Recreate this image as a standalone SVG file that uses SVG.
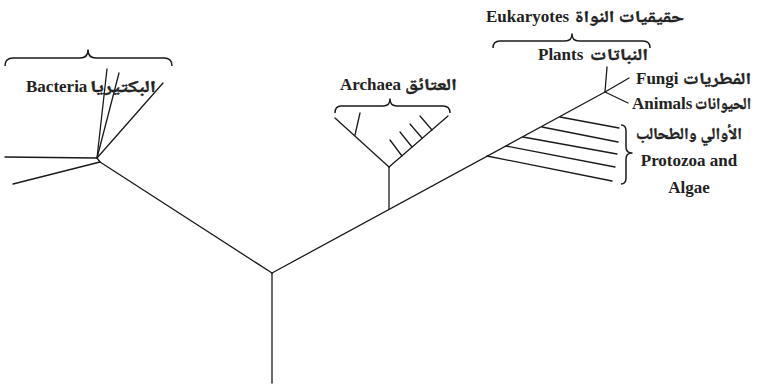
<svg xmlns="http://www.w3.org/2000/svg" width="773" height="386" viewBox="0 0 773 386">
  <style>
    .br { fill: none; stroke: #1a1a1a; stroke-width: 1.3; stroke-linecap: round; }
    .brace { fill: none; stroke: #1a1a1a; stroke-width: 1.5; stroke-linejoin: round; }
    .en { font-family: "Liberation Serif", "Times New Roman", serif; font-weight: bold; font-size: 17px; fill: #222; }
    .ar { font-family: "Noto Naskh Arabic", "Noto Sans Arabic", "DejaVu Sans", sans-serif; font-weight: bold; font-size: 16.5px; fill: #222; stroke: #222; stroke-width: 0.4; }
  </style>
  <rect width="773" height="386" fill="#fff"/>

  <!-- branches of the tree -->
  <g id="connectors">
    <!-- root stem -->
    <line class="br" x1="272" y1="273" x2="272" y2="383"/>
    <!-- root to bacteria -->
    <line class="br" x1="272" y1="273" x2="100" y2="162"/>
    <!-- main trunk toward eukaryotes -->
    <line class="br" x1="272" y1="273" x2="605" y2="92"/>
    <!-- archaea stem -->
    <line class="br" x1="389" y1="209" x2="389" y2="167"/>
  </g>

  <g id="bacteria">
    <line class="br" x1="97" y1="158" x2="5" y2="157"/>
    <line class="br" x1="100" y1="162" x2="13" y2="184"/>
    <line class="br" x1="97" y1="158" x2="107" y2="69"/>
    <line class="br" x1="97" y1="158" x2="119" y2="73"/>
    <line class="br" x1="97" y1="158" x2="163" y2="83"/>
    <line class="br" x1="97" y1="158" x2="100" y2="162"/>
    <path class="brace" d="M5,66 Q5,58 13,58 L80,58 Q88,58 88,50 Q88,58 96,58 L164,58 Q172,58 172,66"/>
    <text class="en" x="26" y="92">Bacteria</text>
    <text class="ar" x="156" y="92" text-anchor="end" textLength="66" lengthAdjust="spacingAndGlyphs">البكتيريا</text>
  </g>

  <g id="archaea">
    <line class="br" x1="389" y1="167" x2="335" y2="118"/>
    <line class="br" x1="389" y1="167" x2="448" y2="116"/>
    <line class="br" x1="355" y1="135" x2="360" y2="113"/>
    <line class="br" x1="402" y1="156" x2="390" y2="140"/>
    <line class="br" x1="412" y1="147" x2="400" y2="132"/>
    <line class="br" x1="422" y1="138" x2="410" y2="124"/>
    <line class="br" x1="432" y1="130" x2="420" y2="116"/>
    <path class="brace" d="M335,113 Q335,106 341,106 L383,106 Q390,106 390,99 Q390,106 397,106 L443,106 Q450,106 450,113"/>
    <text class="en" x="340" y="90">Archaea</text>
    <text class="ar" x="457" y="90" text-anchor="end" textLength="52" lengthAdjust="spacingAndGlyphs">العتائق</text>
  </g>

  <g id="eukaryotes">
    <path class="brace" d="M493,48 Q493,41 500,41 L565,41 Q572,41 572,34 Q572,41 579,41 L643,41 Q650,41 650,48"/>
    <text class="en" x="486" y="22">Eukaryotes</text>
    <text class="ar" x="684" y="22" text-anchor="end" textLength="109" lengthAdjust="spacingAndGlyphs">حقيقيات النواة</text>
  </g>

  <g id="plants">
    <line class="br" x1="605" y1="92" x2="607" y2="67"/>
    <text class="en" x="538" y="60">Plants</text>
    <text class="ar" x="648" y="60" text-anchor="end" textLength="58" lengthAdjust="spacingAndGlyphs">النباتات</text>
  </g>

  <g id="fungi">
    <line class="br" x1="605" y1="92" x2="629" y2="78"/>
    <text class="en" x="636" y="84">Fungi</text>
    <text class="ar" x="751" y="84" text-anchor="end" textLength="68" lengthAdjust="spacingAndGlyphs">الفطريات</text>
  </g>

  <g id="animals">
    <line class="br" x1="605" y1="92" x2="628" y2="103"/>
    <text class="en" x="632" y="109">Animals</text>
    <text class="ar" x="751" y="109" text-anchor="end" textLength="56" lengthAdjust="spacingAndGlyphs">الحيوانات</text>
  </g>

  <g id="protozoa">
    <line class="br" x1="560" y1="117" x2="619" y2="128"/>
    <line class="br" x1="542" y1="127" x2="618" y2="142"/>
    <line class="br" x1="523" y1="137" x2="617" y2="154"/>
    <line class="br" x1="506" y1="146" x2="615" y2="167"/>
    <line class="br" x1="487" y1="156" x2="612" y2="181"/>
    <path class="brace" d="M621,125 Q626,125 626,131 L626,147 Q626,153 632,153 Q626,153 626,159 L626,178 Q626,184 621,184"/>
    <text class="ar" x="689" y="139" text-anchor="middle" textLength="106" lengthAdjust="spacingAndGlyphs">الأوالي والطحالب</text>
    <text class="en" x="689" y="166" text-anchor="middle">Protozoa and</text>
    <text class="en" x="689" y="193" text-anchor="middle">Algae</text>
  </g>
</svg>
